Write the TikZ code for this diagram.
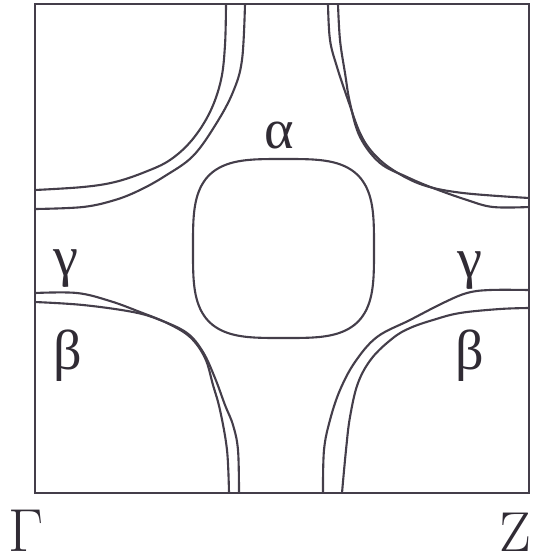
\documentclass[tikz,border=0pt]{standalone}
\usepackage{fontspec}
\newfontfamily\grkfont{Liberation Serif}
\usepackage{tikz}
\definecolor{fsgray}{RGB}{68,62,74}
\tikzset{
    frame/.style={draw=fsgray, line width=0.75pt},
    sheet/.style={draw=fsgray, line width=0.6pt, line join=round},
    lbl/.style={text=fsgray!70!black, inner sep=0pt,
                font=\fontsize{16}{19}\selectfont},
    grk/.style={lbl, font=\fontsize{16}{19}\selectfont\grkfont},
}

\begin{document}
\begin{tikzpicture}[x=0.01cm, y=-0.01cm]
    \useasboundingbox (0,0) rectangle (533,557);
    % Brillouin zone
    \draw[frame] (35,4) rectangle (529,493);

    % alpha pocket (rounded square)
    \draw[sheet] plot[smooth cycle, domain=2.5:357.5, samples=72, variable=\t]
        ({283.5 + 90.5*cos(\t)*pow(pow(abs(cos(\t)),3.5)+pow(abs(sin(\t)),3.5),-1/3.5)},
         {248.5 + 89.5*sin(\t)*pow(pow(abs(cos(\t)),3.5)+pow(abs(sin(\t)),3.5),-1/3.5)});

    % top left
    \draw[sheet] plot[smooth, tension=0.6] coordinates {(35,190) (83,187) (115,182)
        (145,172) (170,160) (192,140) (210,112) (221,80) (225,45) (226,4)};
    \draw[sheet] plot[smooth, tension=0.6] coordinates {(35,209) (83,207) (115,200)
        (140,190) (165,176) (193,156) (216,124) (233,92) (242,60) (245,4)};
    % top right
    \draw[sheet] plot[smooth, tension=0.6] coordinates {(328,4) (330,40) (337,67)
        (348,100) (360,133) (373,153) (393,170) (423,185) (463,193) (529,198)};
    \draw[sheet] plot[smooth, tension=0.6] coordinates {(338,4) (340,40) (345,73)
        (350,103) (360,137) (380,163) (407,177) (433,188) (467,200) (493,207) (529,207)};
    % bottom left
    \draw[sheet] plot[smooth, tension=0.6] coordinates {(35,293) (77,293) (110,301)
        (140,312) (167,323) (190,337) (205,358) (213,385) (220,410) (227,450) (229,493)};
    \draw[sheet] plot[smooth, tension=0.6] coordinates {(35,302) (83,305) (133,312)
        (160,320) (187,333) (203,352) (215,378) (225,405) (233,425) (238,450) (239,493)};
    % bottom right
    \draw[sheet] plot[smooth, tension=0.6] coordinates {(529,290) (490,290) (467,293)
        (443,303) (410,320) (377,337) (355,362) (340,390) (330,420) (324,450) (323,493)};
    \draw[sheet] plot[smooth, tension=0.6] coordinates {(529,308) (500,309) (460,313)
        (433,320) (410,328) (393,338) (372,358) (358,383) (350,417) (346,450) (342,493)};

    % labels
    \node[grk] (alpha) at (279,135) {α};
    \node[grk] (gammaL) at (66,269) {γ};
    \node[grk] (gammaR) at (470,271) {γ};
    \node[grk] (betaL) at (68,356) {β};
    \node[grk] (betaR) at (470,356) {β};
    \node[lbl] (Gpt) at (26,531) {$\Gamma$};
    \node[lbl] (Zpt) at (515,532) {Z};
\end{tikzpicture}
\end{document}
